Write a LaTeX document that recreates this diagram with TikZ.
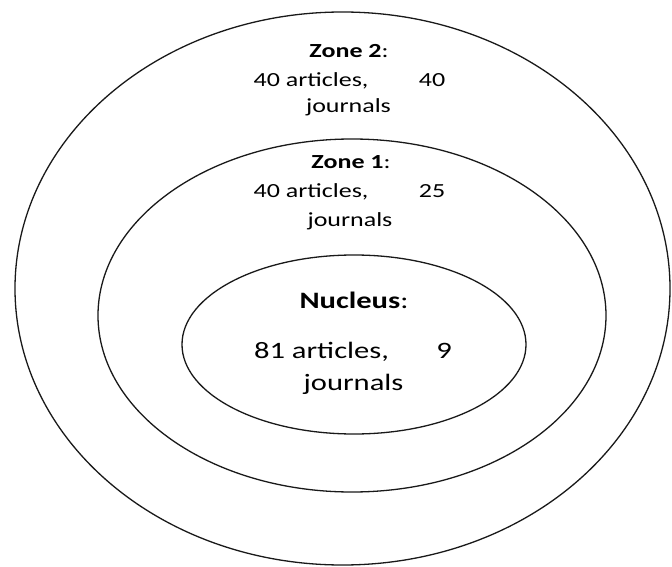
\documentclass[tikz,border=0pt]{standalone}
\usepackage{fontspec}
\setmainfont{Carlito}
\usetikzlibrary{positioning}

\tikzset{
  ring/.style={draw=black!90,line width=1.3pt},
  zonetxt/.style={anchor=base,inner sep=0pt,font=\fontsize{20}{24}\selectfont,xscale=1.3,transform shape},
  nucltxt/.style={anchor=base,inner sep=0pt,font=\fontsize{23.5}{28}\selectfont,xscale=1.3,transform shape}
}

\begin{document}
\begin{tikzpicture}[x=1pt,y=1pt]
        \useasboundingbox (0,0) rectangle (672,-567);

        \coordinate (O) at (342.5,-288.5);
        \coordinate (M) at (352,-315.5);
        \coordinate (N) at (354,-344.5);

        \draw[ring] (O) ellipse [x radius=327.5, y radius=276.5];
        \draw[ring] (M) ellipse [x radius=254, y radius=176.5];
        \draw[ring] (N) ellipse [x radius=172, y radius=89.5];

        % zone 2
        \node[zonetxt] (z2head) at (349,-58) {\textbf{Zone 2}:};
        \node[zonetxt] (z2art) at (311,-87) {40 articles,};
        \node[zonetxt] (z2num) at (432,-87) {40};
        \node[zonetxt] (z2jour) at (348.5,-113) {journals};

        % zone 1
        \node[zonetxt] (z1head) at (351,-168) {\textbf{Zone 1}:};
        \node[zonetxt] (z1art) at (311,-197) {40 articles,};
        \node[zonetxt] (z1num) at (432,-197) {25};
        \node[zonetxt] (z1jour) at (350,-226) {journals};

        % nucleus
        \node[nucltxt] (nhead) at (354,-308) {\textbf{Nucleus}:};
        \node[nucltxt] (nart) at (321.5,-358) {81 articles,};
        \node[nucltxt] (nnum) at (444,-358) {9};
        \node[nucltxt] (njour) at (353.5,-390) {journals};
    \end{tikzpicture}
\end{document}
